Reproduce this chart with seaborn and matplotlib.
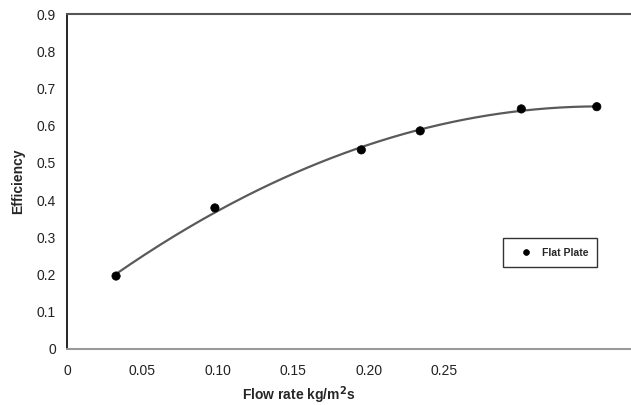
import numpy as np
import pandas as pd
import matplotlib.pyplot as plt
import seaborn as sns

# data
flow_rate = [0.0325, 0.098, 0.195, 0.234, 0.301, 0.351]
efficiency = [0.196, 0.379, 0.535, 0.586, 0.645, 0.651]
x_ticks = [0, 0.05, 0.10, 0.15, 0.20, 0.25]
x_labels = ["0", "0.05", "0.10", "0.15", "0.20", "0.25"]
y_ticks = [0, 0.1, 0.2, 0.3, 0.4, 0.5, 0.6, 0.7, 0.8, 0.9]
y_labels = ["0", "0.1", "0.2", "0.3", "0.4", "0.5", "0.6", "0.7", "0.8", "0.9"]

df = pd.DataFrame({"Flow": flow_rate, "Efficiency": efficiency, "Series": "Flat Plate"})

# 2nd order trendline through the points
coef = np.polyfit(df["Flow"], df["Efficiency"], 2)
xs = np.linspace(min(flow_rate), max(flow_rate), 200)
trend = pd.DataFrame({"Flow": xs, "Efficiency": np.polyval(coef, xs)})

sns.set_style("white")
plt.rcParams["font.family"] = ["Liberation Sans", "DejaVu Sans"]

fig = plt.figure(figsize=(6.31, 4.05), dpi=100)
ax = fig.add_axes([67 / 631, 1 - 349 / 405, 566 / 631, 335 / 405])

sns.lineplot(data=trend, x="Flow", y="Efficiency", color="#5a5a5a", linewidth=1.6, ax=ax, legend=False)
sns.scatterplot(data=df, x="Flow", y="Efficiency", hue="Series", palette=["black"],
                s=36, edgecolor="black", linewidth=0.5, ax=ax, zorder=3)

ax.set_xlim(0, 0.375)
ax.set_ylim(0, 0.9)
ax.set_xticks(x_ticks)
ax.set_xticklabels(x_labels)
ax.set_yticks(y_ticks)
ax.set_yticklabels(y_labels)
ax.tick_params(axis="both", direction="out", length=5, width=1, colors="black",
               labelsize=10, labelcolor="#222222")
ax.tick_params(axis="x", pad=6)
ax.tick_params(axis="y", pad=3)

ax.set_xlabel("Flow rate kg/m$^\\mathbf{2}$s", fontsize=10, fontweight="bold")
ax.xaxis.set_label_coords(0.41, -0.105)
ax.set_ylabel("Efficiency", fontsize=10, fontweight="bold", labelpad=8)

ax.spines["left"].set_color("black")
ax.spines["left"].set_linewidth(1.2)
ax.spines["top"].set_color("#555555")
ax.spines["top"].set_linewidth(1.5)
ax.spines["bottom"].set_color("#999999")
ax.spines["bottom"].set_linewidth(1.5)
ax.spines["right"].set_visible(False)

leg = ax.legend(loc="upper left", bbox_to_anchor=(436 / 566, 0.33), frameon=True, fancybox=False,
                prop={"size": 7.5, "weight": "bold"}, handletextpad=0.2, borderpad=0.9,
                handlelength=2.6, markerscale=0.7, borderaxespad=0)
leg.get_frame().set_edgecolor("black")
leg.get_frame().set_linewidth(1.0)

fig.savefig("out.png", dpi=100)
